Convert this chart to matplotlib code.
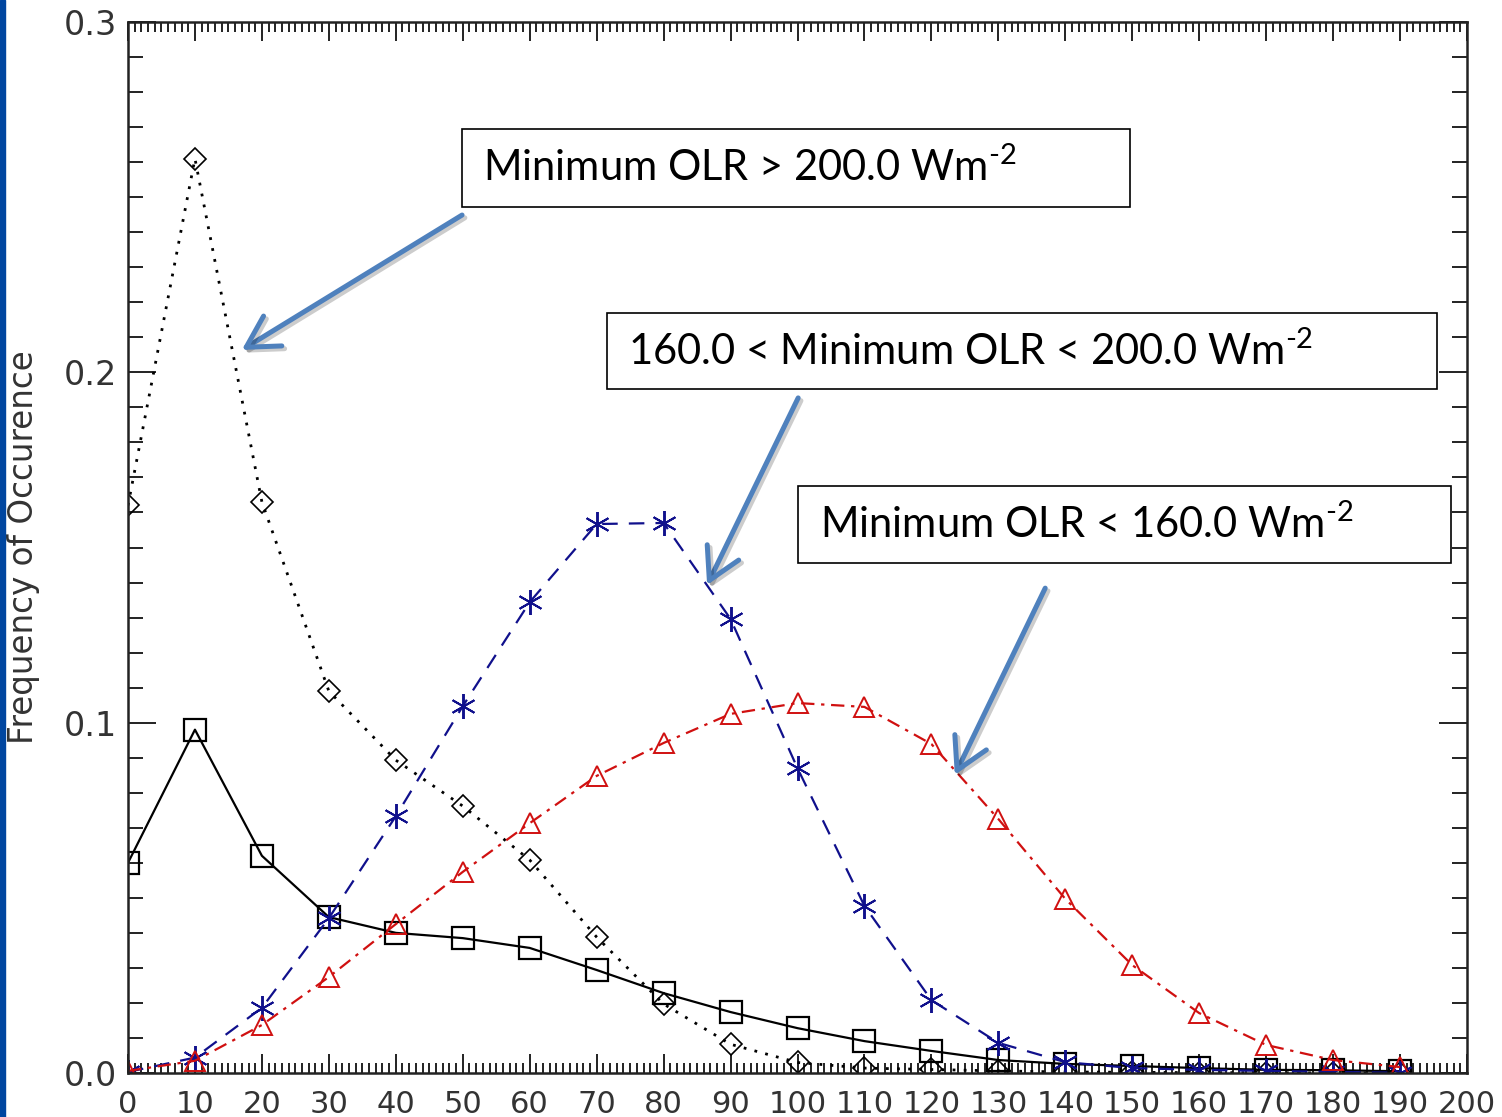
import numpy as np
import matplotlib.pyplot as plt
from matplotlib.patches import Rectangle
import matplotlib.patheffects as pe

# %% Data
olr_bins = np.arange(0, 200, 10)

# solid squares
freq_all = [0.060, 0.098, 0.062, 0.0445, 0.040, 0.0385, 0.0357, 0.0294, 0.0228, 0.0174,
            0.0128, 0.0091, 0.0063, 0.0037, 0.0026, 0.0020, 0.0014, 0.0009, 0.0008, 0.0005]
# Minimum OLR > 200 (dotted diamonds)
freq_gt200 = [0.162, 0.261, 0.163, 0.109, 0.0893, 0.0762, 0.0608, 0.0388, 0.0197, 0.0082,
              0.0030, 0.0014, 0.0010, 0.0006, 0.0003, 0.0002, 0.0001, 0.0001, 0.0, 0.0]
# 160 < Minimum OLR < 200 (blue dashed asterisks)
freq_mid = [0.0003, 0.0044, 0.0186, 0.0442, 0.0733, 0.1047, 0.1344, 0.1567, 0.1570, 0.1296,
            0.0870, 0.0477, 0.0208, 0.0086, 0.0031, 0.0014, 0.0009, 0.0006, 0.0003, 0.0001]
# Minimum OLR < 160 (red dash-dot triangles)
freq_lt160 = [0.0006, 0.0035, 0.0137, 0.0274, 0.0425, 0.0574, 0.0713, 0.0848, 0.0942, 0.1025,
              0.1056, 0.1045, 0.0939, 0.0725, 0.0497, 0.0308, 0.0171, 0.0080, 0.0037, 0.0017]

box_labels = [r"Minimum OLR > 200.0 Wm$^{\text{-2}}$",
              r"160.0 < Minimum OLR < 200.0 Wm$^{\text{-2}}$",
              r"Minimum OLR < 160.0 Wm$^{\text{-2}}$"]

# %% Figure set-up
plt.rcParams['font.family'] = 'DejaVu Sans'
plt.rcParams['mathtext.fontset'] = 'custom'
plt.rcParams['mathtext.rm'] = 'Lato'
plt.rcParams['mathtext.default'] = 'regular'

fig = plt.figure(figsize=(15.02, 11.17), dpi=100)
ax = fig.add_axes([128/1502, 44/1117, (1467-128)/1502, (1073-22)/1117])

# blue strip on the left edge of the slide
fig.patches.append(Rectangle((0, 0), 5/1502, 1, transform=fig.transFigure,
                             color='#0046A0', zorder=10))

blue = '#10108C'
red = '#D01010'

ax.plot(olr_bins, freq_all, color='black', lw=1.6, ls='-',
        marker='s', ms=16, mfc='none', mec='black', mew=1.6)
ax.plot(olr_bins, freq_gt200, color='black', lw=2.0, ls=(0, (1, 3)),
        marker='D', ms=11, mfc='none', mec='black', mew=1.2)
ax.plot(olr_bins, freq_mid, color=blue, lw=1.6, ls=(0, (7, 5)),
        marker=(6, 2, 0), ms=18, mec=blue, mew=1.4)
ax.plot(olr_bins, freq_lt160, color=red, lw=1.6, ls=(0, (6, 3, 1.5, 3)),
        marker='^', ms=15, mfc='none', mec=red, mew=1.4)

# %% Axes styling (IDL look)
ax.set_xlim(0, 200)
ax.set_ylim(0, 0.3)
ax.set_xticks(np.arange(0, 201, 10))
ax.set_xticks(np.arange(0, 201, 1), minor=True)
ax.set_yticks([0.0, 0.1, 0.2, 0.3])
ax.set_yticks(np.arange(0, 0.3001, 0.01), minor=True)
ax.set_yticklabels(['0.0', '0.1', '0.2', '0.3'])

ax.tick_params(axis='both', which='both', direction='in', top=True, right=True,
               width=1.4, color='#222222', labelsize=22, labelcolor='#333333',
               labelfontfamily='DejaVu Sans')
ax.tick_params(axis='y', labelsize=24)
ax.tick_params(axis='x', which='major', length=14, pad=12)
ax.tick_params(axis='x', which='minor', length=7)
ax.tick_params(axis='y', which='major', length=20, pad=8)
ax.tick_params(axis='y', which='minor', length=11)
for sp in ax.spines.values():
    sp.set_linewidth(1.8)
    sp.set_color('#222222')

ax.set_ylabel('Frequency of Occurence', fontsize=23.5, color='#333333',
              family='DejaVu Sans')
ax.yaxis.set_label_coords(-0.066, 0.5)

# %% Annotation boxes and arrows
boxes = [(49.9, 0.2472, 99.8, 0.0223, 53.0),
         (71.5, 0.1952, 124.0, 0.0217, 74.7),
         (100.1, 0.1456, 97.5, 0.0220, 103.4)]
for (bx, by, bw, bh, tx), label in zip(boxes, box_labels):
    ax.add_patch(Rectangle((bx, by), bw, bh, facecolor='white', edgecolor='black',
                           lw=1.2, zorder=5, clip_on=False))
    ax.text(tx, by + bh/2, label, fontsize=30, family='Lato', va='center', ha='left',
            zorder=6, clip_on=False)

arrows = [((49.9, 0.2449), (17.0, 0.2064)),
          ((100.1, 0.1927), (86.5, 0.1393)),
          ((137.0, 0.1384), (123.5, 0.0851))]
for tail, head in arrows:
    ax.annotate('', xy=head, xytext=tail, zorder=7,
                arrowprops=dict(arrowstyle='->,head_length=0.8,head_width=0.45',
                                lw=3.6, color='#4F81BD', shrinkA=0, shrinkB=0,
                                mutation_scale=28, capstyle='round', joinstyle='round',
                                path_effects=[pe.SimpleLineShadow(offset=(2, -2),
                                                                  alpha=0.2),
                                              pe.Normal()]))

fig.savefig('out.png', dpi=100)
